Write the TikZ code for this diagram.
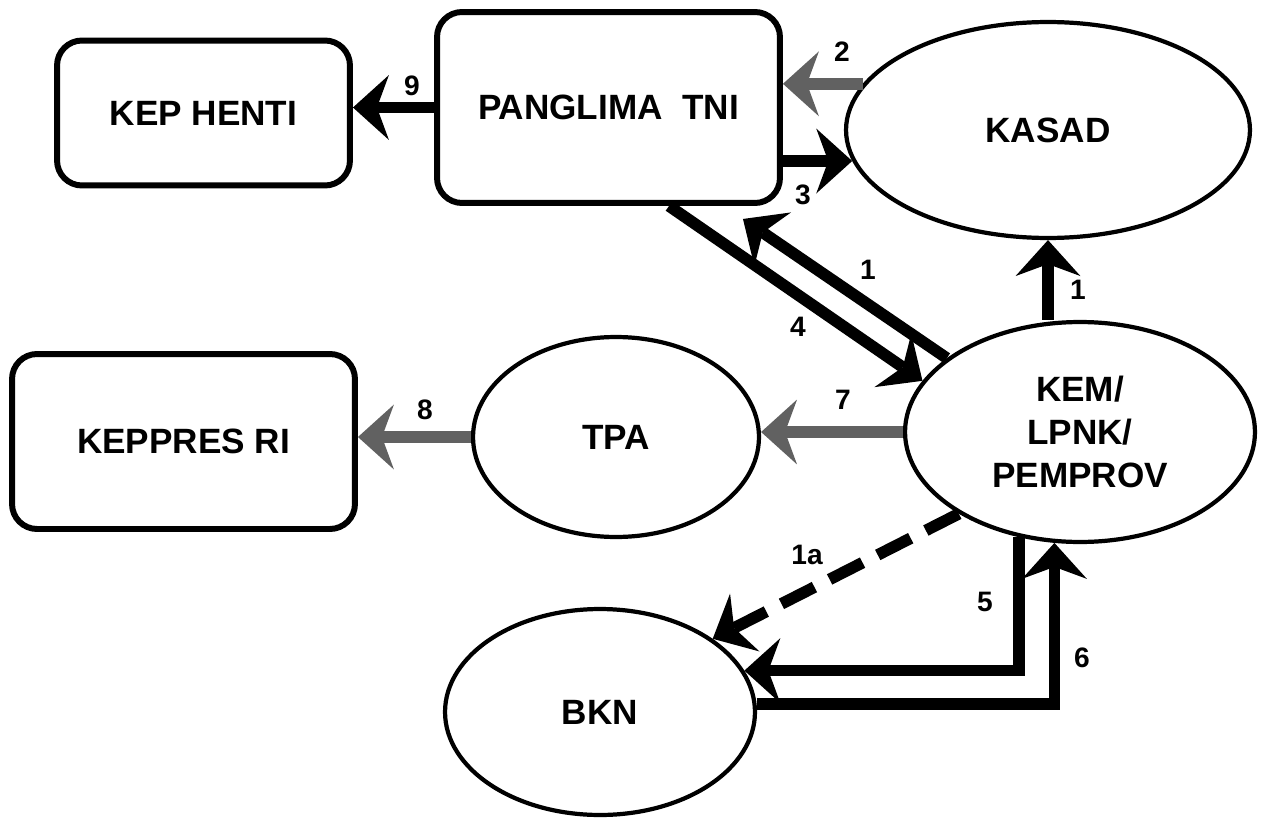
\documentclass[tikz,border=0pt]{standalone}
\usepackage{fontspec}
\setmainfont{Liberation Sans}
\usetikzlibrary{arrows.meta,shapes.geometric}
\begin{document}
\begin{tikzpicture}[x=0.02cm,y=-0.02cm,
  box/.style={draw,line width=3.4pt,rounded corners=0.5cm,inner sep=0pt,
    font=\fontsize{20}{24}\selectfont\bfseries},
  ell/.style={draw,ellipse,line width=2.4pt,inner sep=0pt,align=center,
    font=\fontsize{20}{24.5}\selectfont\bfseries},
  arr/.style={line width=6.6pt,line join=miter,
    -{Stealth[length=0.72cm,width=1.3cm,inset=0.24cm,line width=0pt]}},
  graya/.style={draw=black!62},
  dasharr/.style={dash pattern=on 0.74cm off 0.34cm},
  lbl/.style={inner sep=0pt,font=\fontsize{16}{18}\selectfont\bfseries},
]
\useasboundingbox (0,0) rectangle (1261,828);

% nodes
\node[box,minimum width=5.86cm,minimum height=2.9cm] (kep) at (203.5,113) {KEP HENTI};
\node[box,minimum width=6.86cm,minimum height=3.82cm] (pang) at (608.5,107.5) {PANGLIMA\ \ TNI};
\node[ell,minimum width=8.08cm,minimum height=4.32cm] (kasad) at (1048,130) {KASAD};
\node[box,minimum width=6.86cm,minimum height=3.5cm] (keppres) at (183.5,441.5) {KEPPRES RI};
\node[ell,minimum width=5.72cm,minimum height=4.0cm] (tpa) at (616,437) {TPA};
\node[ell,minimum width=7.0cm,minimum height=4.4cm] (kem) at (1080,432) {KEM/\\LPNK/\\PEMPROV};
\node[ell,minimum width=6.2cm,minimum height=4.12cm] (bkn) at (600,712) {BKN};

% connectors
\draw[arr] (pang.west) -- (kep.east |- pang.west);
\draw[arr,graya] (kasad.166) -- (kasad.166 -| pang.east);
\draw[arr] (pang.east |- kasad.189) -- (kasad.189);
\draw[arr] (kem.151) -- ([xshift=-0.8cm,yshift=-0.26cm]pang.south east);
\draw[arr] ([xshift=1.21cm]pang.south) -- (kem.162);
\draw[arr] (kem.north -| kasad.south) -- (kasad.south);
\draw[arr,graya] (kem.west) -- (tpa.east |- kem.west);
\draw[arr,graya] (tpa.west) -- (keppres.east |- tpa.west);
\draw[arr,dasharr] (kem.214) -- (bkn.33);
\draw[arr] (kem.240) |- (bkn.16);
\draw[arr] (bkn.3) -| (kem.257);

% labels
\node[lbl] (l9) at (412,86) {9};
\node[lbl] (l2) at (842,52) {2};
\node[lbl] (l3) at (803,195) {3};
\node[lbl] (l1d) at (868,270) {1};
\node[lbl] (l4) at (798,327) {4};
\node[lbl] (l1v) at (1078,290) {1};
\node[lbl] (l7) at (843,400) {7};
\node[lbl] (l8) at (425,410) {8};
\node[lbl] (l1a) at (807,555) {1a};
\node[lbl] (l5) at (985,602) {5};
\node[lbl] (l6) at (1082,658) {6};
\end{tikzpicture}
\end{document}
